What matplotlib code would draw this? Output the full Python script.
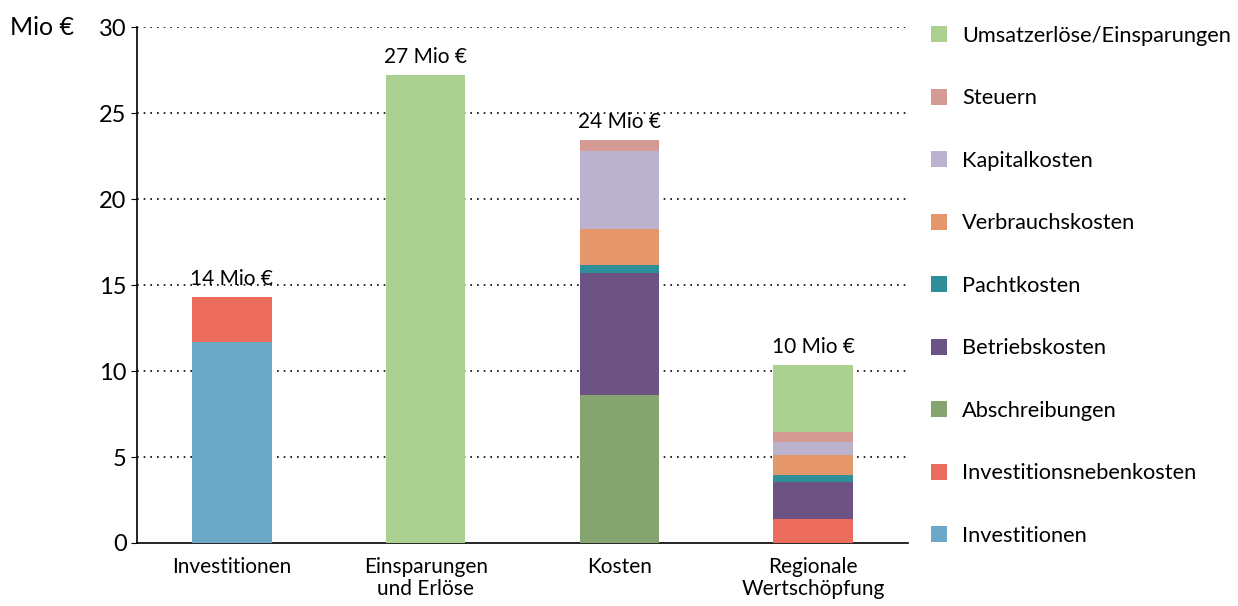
import numpy as np
import matplotlib.pyplot as plt
from matplotlib.patches import Patch

plt.rcParams['font.family'] = ['Lato', 'DejaVu Sans']

categories = ['Investitionen', 'Einsparungen\nund Erlöse', 'Kosten', 'Regionale\nWertschöpfung']
totals = ['14 Mio €', '27 Mio €', '24 Mio €', '10 Mio €']

# stacked components, bottom to top
series = ['Investitionen', 'Investitionsnebenkosten', 'Abschreibungen', 'Betriebskosten',
          'Pachtkosten', 'Verbrauchskosten', 'Kapitalkosten', 'Steuern',
          'Umsatzerlöse/Einsparungen']
investitionen = [11.7, 0, 0, 0]
nebenkosten = [2.6, 0, 0, 1.4]
abschreibungen = [0, 0, 8.6, 0]
betriebskosten = [0, 0, 7.1, 2.15]
pachtkosten = [0, 0, 0.45, 0.4]
verbrauchskosten = [0, 0, 2.1, 1.17]
kapitalkosten = [0, 0, 4.55, 0.75]
steuern = [0, 0, 0.65, 0.58]
umsatz = [0, 27.25, 0, 3.9]

colors = ['#6CA9C8', '#EB6C5C', '#86A46F', '#6C5384', '#2E8E9A',
          '#E5966A', '#BBB2CE', '#D49A94', '#ABD08F']

values = [investitionen, nebenkosten, abschreibungen, betriebskosten, pachtkosten,
          verbrauchskosten, kapitalkosten, steuern, umsatz]

fig = plt.figure(figsize=(12.38, 6.06), dpi=100)
ax = fig.add_axes([0.1107, 0.104, 0.6227, 0.851])

x = np.arange(len(categories))
bottom = np.zeros(len(categories))
for name, vals, c in zip(series, values, colors):
    ax.bar(x, vals, width=0.41, bottom=bottom, color=c, label=name, zorder=3)
    bottom += np.array(vals)

for xi, top, lab in zip(x, bottom, totals):
    ax.text(xi, top + 0.45, lab, ha='center', va='bottom', fontsize=15)

ax.set_xlim(-0.49, 3.49)
ax.set_ylim(0, 30)
ax.set_yticks(range(0, 31, 5))
ax.tick_params(axis='y', labelsize=17, length=4, direction='out')
ax.tick_params(axis='x', labelsize=15, length=0, pad=10)
ax.set_xticks(x)
ax.set_xticklabels(categories, linespacing=1.15)
for yv in range(5, 31, 5):
    ax.axhline(yv, color='black', linestyle=(0, (1, 3)), linewidth=1.2, zorder=1)
for s in ['top', 'right']:
    ax.spines[s].set_visible(False)
ax.spines['left'].set_linewidth(1.2)
ax.spines['bottom'].set_linewidth(1.2)

fig.text(0.008, 0.955, 'Mio €', fontsize=18, va='center', ha='left')

handles = [Patch(facecolor=c) for c in colors][::-1]
labels = series[::-1]
fig.legend(handles, labels, loc='upper left', bbox_to_anchor=(0.736, 0.99),
           frameon=False, fontsize=15.7, labelspacing=1.95, handlelength=0.75,
           handleheight=0.75, handletextpad=0.7)

fig.savefig('out.png', dpi=100)
